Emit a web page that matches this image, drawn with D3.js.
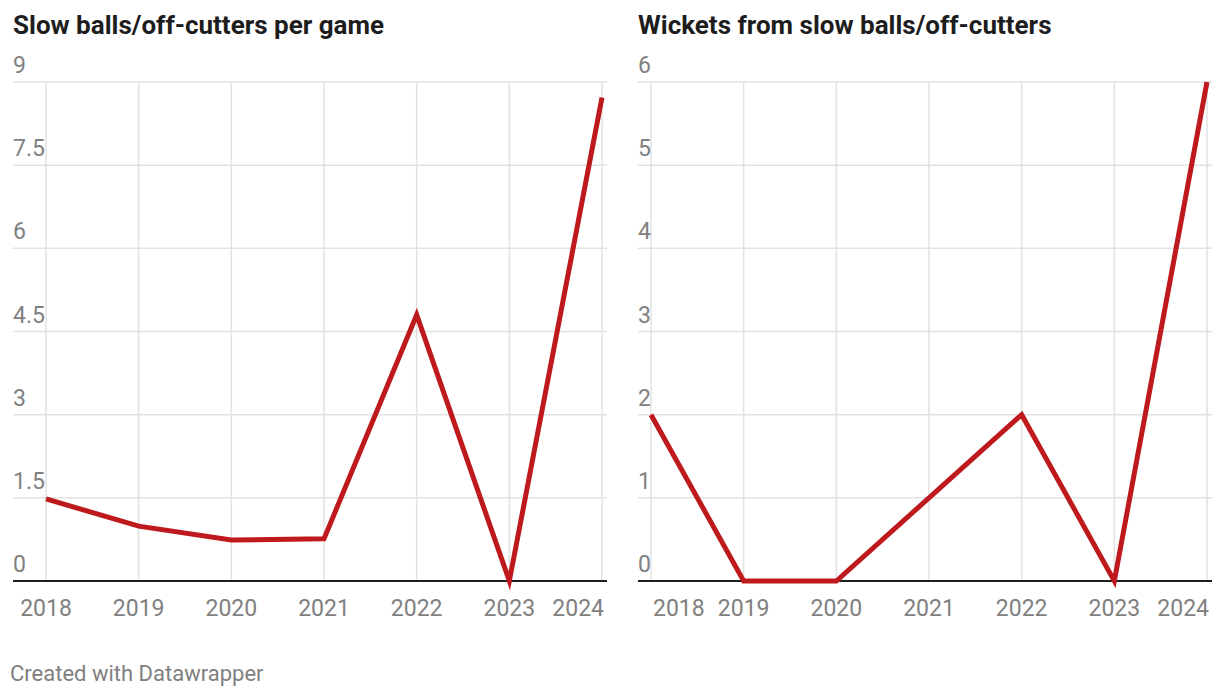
<!DOCTYPE html>
<html><head><meta charset="utf-8">
<script src="https://cdn.jsdelivr.net/npm/d3@7"></script>
<style>
body{margin:0;background:#fff;}
text{font-family:Roboto,"Noto Sans",sans-serif;}
</style></head><body>
<svg id="c" width="1220" height="698"></svg>
<script>
const years = [2018, 2019, 2020, 2021, 2022, 2023, 2024];
const slowBallsPerGame = [1.48, 0.99, 0.74, 0.76, 4.8, 0, 8.72];
const wickets = [2, 0, 0, 1, 2, 0, 6];
const leftTicks = [0, 1.5, 3, 4.5, 6, 7.5, 9];
const rightTicks = [0, 1, 2, 3, 4, 5, 6];
const titles = ["Slow balls/off-cutters per game", "Wickets from slow balls/off-cutters"];
const footer = "Created with Datawrapper";

const svg = d3.select("#c");
const red = "#be1a1d", grid = "#e2e2e2", lab = "#808080";

function panel(cfg){
  const g = svg.append("g");
  const x = d3.scaleLinear().domain([2018, 2024]).range([cfg.x0, cfg.x1]);
  const y = d3.scaleLinear().domain([0, cfg.max]).range([581, 82]);
  g.append("text").attr("x", cfg.gl).attr("y", 34).attr("font-size", 26).attr("font-weight", 700)
    .attr("fill", "#1d1d1d").text(cfg.title);
  g.selectAll(".hg").data(cfg.ticks.filter(d => d > 0)).join("line")
    .attr("x1", cfg.gl).attr("x2", cfg.gr).attr("y1", d => y(d)).attr("y2", d => y(d))
    .attr("stroke", grid).attr("stroke-width", 1.5);
  g.selectAll(".vg").data(years).join("line")
    .attr("x1", d => x(d)).attr("x2", d => x(d)).attr("y1", y(cfg.max)).attr("y2", 581)
    .attr("stroke", grid).attr("stroke-width", 1.5);
  g.selectAll(".yl").data(cfg.ticks).join("text")
    .attr("x", cfg.gl).attr("y", d => y(d) - 9).attr("font-size", 23).attr("fill", lab)
    .text(d => d);
  g.selectAll(".xl").data(years).join("text")
    .attr("x", (d, i) => i === years.length - 1 ? x(d) + 2 : (cfg.leftFirst && i === 0 ? x(d) + 2 : x(d)))
    .attr("y", 616).attr("font-size", 23).attr("fill", lab)
    .attr("text-anchor", (d, i) => i === years.length - 1 ? "end" : (cfg.leftFirst && i === 0 ? "start" : "middle"))
    .text(d => d);
  g.append("line").attr("x1", cfg.gl).attr("x2", cfg.gr).attr("y1", 581).attr("y2", 581)
    .attr("stroke", "#1d1d1d").attr("stroke-width", 2);
  const line = d3.line().x((d, i) => x(years[i])).y(d => y(d));
  g.append("path").datum(cfg.values).attr("d", line).attr("fill", "none")
    .attr("stroke", red).attr("stroke-width", 5).attr("stroke-linejoin", "miter");
}

panel({title: titles[0], x0: 46, x1: 602, gl: 13, gr: 607, max: 9, ticks: leftTicks, values: slowBallsPerGame, leftFirst: false});
panel({title: titles[1], x0: 651, x1: 1207, gl: 638, gr: 1212, max: 6, ticks: rightTicks, values: wickets, leftFirst: true});

svg.append("text").attr("x", 10).attr("y", 681).attr("font-size", 22).attr("fill", lab).text(footer);
</script></body></html>
